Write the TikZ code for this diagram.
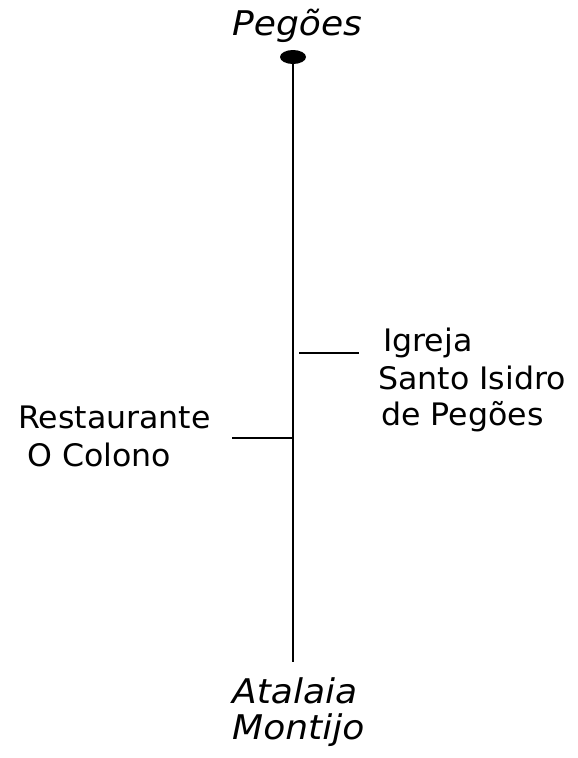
\documentclass[tikz,border=0pt]{standalone}
\usepackage{fontspec}
\usepackage{graphicx}
\setmainfont{DejaVu Sans}
\usetikzlibrary{shapes.geometric}
\newcommand{\rtxt}[1]{\scalebox{1.02}[1]{#1}}
\newcommand{\itxt}[1]{\scalebox{1.06}[1]{#1}}
\begin{document}
\begin{tikzpicture}[x=1pt,y=-1pt,
  lbl/.style={inner sep=0pt,anchor=base west,font=\fontsize{31}{38}\selectfont},
  ilbl/.style={inner sep=0pt,anchor=base west,font=\fontsize{34}{38}\selectfont\itshape},
  road/.style={line width=1.6pt}]
\useasboundingbox (0,0) rectangle (578,758);
\node[ilbl] (peg) at (232,35) {\itxt{Pegões}};
\node[fill,ellipse,minimum width=26pt,minimum height=14pt,inner sep=0pt] (top) at (293,57) {};
\coordinate (bot) at (293,662);
\draw[road] (top.center) -- (bot);
\coordinate (r1) at (299,353);
\coordinate (r2) at (359,353);
\draw[road] (r1) -- (r2);
\coordinate (l1) at (232,438);
\coordinate (l2) at (293,438);
\draw[road] (l1) -- (l2);
\node[lbl] (ig1) at (383,351) {\rtxt{Igreja}};
\node[lbl] (ig2) at (378,389) {\rtxt{Santo Isidro}};
\node[lbl] (ig3) at (381,425) {\rtxt{de Pegões}};
\node[lbl] (re1) at (18,428) {\rtxt{Restaurante}};
\node[lbl] (re2) at (27,466) {\rtxt{O Colono}};
\node[ilbl] (at) at (232,703) {\itxt{Atalaia}};
\node[ilbl] (mo) at (232,739) {\itxt{Montijo}};
\end{tikzpicture}
\end{document}
